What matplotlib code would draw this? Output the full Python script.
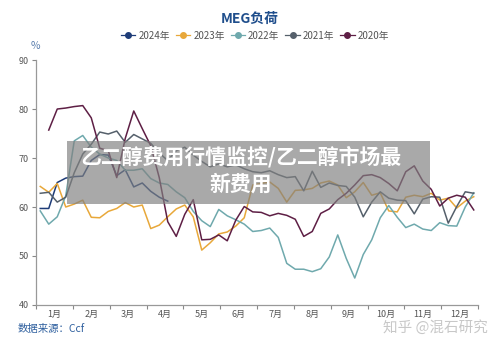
import numpy as np
import matplotlib
matplotlib.use("Agg")
import matplotlib.pyplot as plt
from matplotlib.patches import Rectangle

plt.rcParams['font.family'] = ['Noto Sans CJK SC', 'DejaVu Sans']

nan = np.nan
months = ["1月", "2月", "3月", "4月", "5月", "6月", "7月", "8月", "9月", "10月", "11月", "12月"]
series_names = ["2024年", "2023年", "2022年", "2021年", "2020年"]
colors = ["#1e3c78", "#e8a83a", "#6fa9ad", "#55606b", "#5e1f45"]

# weekly load (%), week index 0..51
y2024 = [59.7, 59.7, 65.0, 65.9, 66.2, 66.3, 69.5, 70.7, 70.6, 66.4, 67.6, 64.1, 64.9, 63.2, 62.0, 61.2]
y2023 = [64.2, 63.0, 64.8, 60.0, 60.6, 61.4, 57.9, 57.8, 59.1, 59.7, 60.9, 60.0, 60.4, 55.6, 56.3, 58.0,
         59.6, 60.4, 58.0, 51.2, 52.7, 54.5, 54.9, 56.1, 57.8, 64.5, 64.8, 65.1, 63.8, 61.0, 63.4, 63.5,
         63.8, 64.9, 65.3, 64.5, 61.9, 63.1, 65.0, 62.4, 62.9, 59.2, 59.0, 62.0, 62.4, 62.1, 62.8, 61.4,
         61.8, 59.8, 61.2, 62.1]
y2022 = [59.2, 56.5, 58.0, 62.3, 73.5, 74.6, 72.2, 70.8, 70.0, 69.5, 67.5, 67.5, 67.8, 65.8, 64.9, 64.6,
         63.1, 61.9, 59.1, 57.2, 56.0, 59.5, 58.2, 57.4, 56.5, 55.0, 55.2, 55.7, 53.8, 48.5, 47.3, 47.3,
         46.8, 47.4, 49.8, 54.3, 49.5, 45.5, 50.3, 53.3, 57.8, 60.3, 57.9, 55.8, 56.5, 55.5, 55.2, 56.8,
         56.2, 56.1, 60.0, 62.9]
y2021 = [62.8, 63.0, 61.0, 62.0, 67.0, 70.8, 72.8, 75.3, 74.9, 75.5, 73.2, 74.8, 73.9, 73.0, 71.0, 69.5,
         71.5, 72.2, 70.6, 69.3, 68.2, 68.8, 68.2, 68.6, 67.8, 67.2, 67.0, 67.4, 66.6, 66.0, 66.2, 63.3,
         67.3, 64.0, 64.9, 64.4, 64.2, 62.0, 58.0, 61.0, 63.1, 61.8, 61.4, 61.3, 58.6, 61.6, 62.1, 62.0,
         56.7, 60.1, 63.1, 62.8]
y2020 = [nan, 75.7, 80.0, 80.2, 80.5, 80.7, 78.2, 72.0, 71.5, 66.0, 74.0, 79.6, 76.0, 72.5, 66.0, 57.0,
         54.0, 58.5, 61.5, 53.3, 53.4, 54.3, 53.1, 57.3, 60.1, 59.0, 58.9, 58.2, 58.7, 58.3, 57.5, 54.0,
         55.0, 58.7, 59.6, 61.5, 62.8, 64.5, 66.4, 66.6, 66.0, 64.8, 63.3, 67.2, 68.4, 65.3, 63.6, 60.2,
         61.8, 62.4, 62.0, 59.4]
all_series = [y2024, y2023, y2022, y2021, y2020]

fig = plt.figure(figsize=(5.0, 3.45), dpi=100)
ax = fig.add_axes([0.072, 0.116, 0.884, 0.710])

for name, vals, c in zip(series_names, all_series, colors):
    x = np.arange(len(vals))
    ax.plot(x, vals, color=c, lw=1.1, label=name)

ax.set_xlim(-0.5, 51.5)
ax.set_ylim(40, 90)
ax.set_yticks([40, 50, 60, 70, 80, 90])
step = 52 / 12
ax.set_xticks([-0.5 + k * step for k in range(13)])
ax.set_xticklabels([])
ax.set_xticks([-0.5 + (k + 0.5) * step for k in range(12)], minor=True)
ax.set_xticklabels(months, minor=True)
ax.tick_params(axis='x', which='minor', length=0, labelsize=6.5, colors='#555555', pad=3.5)
ax.tick_params(axis='x', which='major', length=3, color='#888888')
ax.tick_params(axis='y', length=3, color='#888888', labelsize=6.5, labelcolor='#555555', pad=2)
for s in ['top', 'right']:
    ax.spines[s].set_visible(False)
for s in ['left', 'bottom']:
    ax.spines[s].set_color('#999999')
    ax.spines[s].set_linewidth(0.9)

fig.text(0.5, 0.945, "MEG负荷", ha='center', va='center', fontsize=10, fontweight='bold', color='#1f4e8c')
leg = fig.legend([plt.Line2D([], [], color=c, lw=0.9, marker='o', markersize=4) for c in colors],
                 series_names, loc='center', bbox_to_anchor=(0.51, 0.897), ncol=5, frameon=False,
                 fontsize=7, handlelength=1.5, handletextpad=0.3, columnspacing=0.6, borderpad=0)
for t in leg.get_texts():
    t.set_color('#555555')
fig.text(0.062, 0.868, "%", ha='left', va='center', fontsize=7.5, color='#5b7fae')

fig.text(0.036, 0.045, "数据来源：Ccf", ha='left', va='center', fontsize=7.5, color='#2e5f9e')
fig.text(0.976, 0.05, "知乎 @混石研究", ha='right', va='center', fontsize=10.5, color='#c8c8c8')

fig.patches.append(Rectangle((0.134, 1 - 204 / 345), 0.726, 63 / 345, transform=fig.transFigure,
                             facecolor='#808080', alpha=0.68, edgecolor='none', zorder=5))
fig.text(0.482, 1 - 157 / 345, "乙二醇费用行情监控/乙二醇市场最", ha='center', va='center',
         fontsize=15, fontweight='bold', color='white', zorder=6)
fig.text(0.482, 1 - 184 / 345, "新费用", ha='center', va='center',
         fontsize=15, fontweight='bold', color='white', zorder=6)

fig.savefig("out.png", dpi=100)
